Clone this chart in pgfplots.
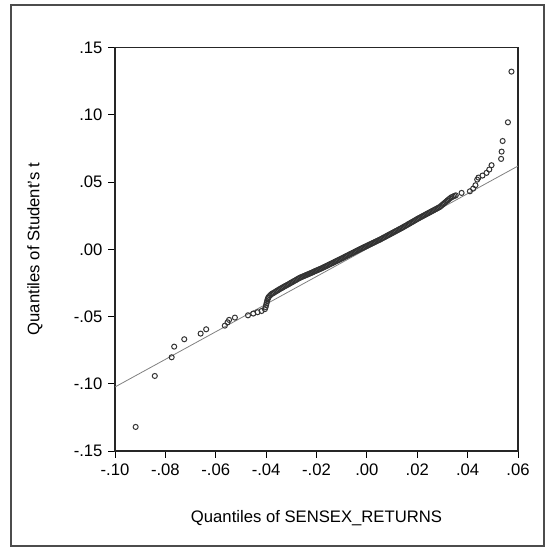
\documentclass[border=0pt]{standalone}
\usepackage{fontspec}
\setmainfont{Liberation Sans}
\usepackage{pgfplots}
\pgfplotsset{compat=1.18}
\usepackage{pgfplotstable}

% outlying quantiles, read one by one
\pgfplotstableread{
x y
-0.0918 -0.1321
-0.0842 -0.0942
-0.0775 -0.0803
-0.0765 -0.0724
-0.0725 -0.0669
-0.0660 -0.0627
-0.0638 -0.0595
-0.0564 -0.0568
-0.0553 -0.0543
-0.0547 -0.0525
-0.0524 -0.0508
-0.0472 -0.0491
-0.0451 -0.0478
-0.0434 -0.0468
-0.0418 -0.0459
0.0353 0.0401
0.0376 0.0419
0.0409 0.0431
0.0422 0.0451
0.0431 0.0476
0.0438 0.0518
0.0443 0.0533
0.0459 0.0548
0.0475 0.0568
0.0486 0.0593
0.0495 0.0625
0.0533 0.0672
0.0535 0.0726
0.0539 0.0805
0.0560 0.0944
0.0574 0.1321
}\tails

% dense central band
\pgfplotstableread{
x y
-0.0405 -0.0445
-0.0402 -0.0430
-0.0400 -0.0415
-0.0398 -0.0400
-0.0396 -0.0385
-0.0394 -0.0372
-0.0392 -0.0362
-0.0390 -0.0355
-0.0385 -0.0345
-0.0380 -0.0335
-0.0375 -0.0329
-0.0370 -0.0324
-0.0365 -0.0318
-0.0360 -0.0312
-0.0355 -0.0307
-0.0350 -0.0301
-0.0345 -0.0295
-0.0340 -0.0290
-0.0335 -0.0285
-0.0330 -0.0279
-0.0325 -0.0274
-0.0320 -0.0269
-0.0315 -0.0264
-0.0310 -0.0259
-0.0305 -0.0253
-0.0300 -0.0248
-0.0295 -0.0243
-0.0290 -0.0237
-0.0285 -0.0232
-0.0280 -0.0227
-0.0275 -0.0221
-0.0270 -0.0216
-0.0265 -0.0211
-0.0260 -0.0207
-0.0255 -0.0203
-0.0250 -0.0199
-0.0245 -0.0195
-0.0240 -0.0191
-0.0235 -0.0187
-0.0230 -0.0183
-0.0225 -0.0179
-0.0220 -0.0175
-0.0215 -0.0171
-0.0210 -0.0166
-0.0205 -0.0162
-0.0200 -0.0158
-0.0195 -0.0154
-0.0190 -0.0150
-0.0185 -0.0146
-0.0180 -0.0142
-0.0175 -0.0137
-0.0170 -0.0133
-0.0165 -0.0128
-0.0160 -0.0124
-0.0155 -0.0119
-0.0150 -0.0114
-0.0145 -0.0110
-0.0140 -0.0105
-0.0135 -0.0101
-0.0130 -0.0096
-0.0125 -0.0091
-0.0120 -0.0087
-0.0115 -0.0082
-0.0110 -0.0078
-0.0105 -0.0073
-0.0100 -0.0068
-0.0095 -0.0064
-0.0090 -0.0059
-0.0085 -0.0054
-0.0080 -0.0049
-0.0075 -0.0045
-0.0070 -0.0040
-0.0065 -0.0035
-0.0060 -0.0030
-0.0055 -0.0026
-0.0050 -0.0021
-0.0045 -0.0016
-0.0040 -0.0011
-0.0035 -0.0007
-0.0030 -0.0002
-0.0025 0.0003
-0.0020 0.0007
-0.0015 0.0012
-0.0010 0.0016
-0.0005 0.0021
0.0000 0.0025
0.0005 0.0030
0.0010 0.0034
0.0015 0.0039
0.0020 0.0043
0.0025 0.0048
0.0030 0.0052
0.0035 0.0057
0.0040 0.0061
0.0045 0.0066
0.0050 0.0070
0.0055 0.0075
0.0060 0.0080
0.0065 0.0085
0.0070 0.0090
0.0075 0.0095
0.0080 0.0100
0.0085 0.0105
0.0090 0.0110
0.0095 0.0115
0.0100 0.0120
0.0105 0.0125
0.0110 0.0130
0.0115 0.0135
0.0120 0.0140
0.0125 0.0145
0.0130 0.0150
0.0135 0.0155
0.0140 0.0160
0.0145 0.0165
0.0150 0.0171
0.0155 0.0176
0.0160 0.0181
0.0165 0.0187
0.0170 0.0192
0.0175 0.0198
0.0180 0.0203
0.0185 0.0208
0.0190 0.0214
0.0195 0.0219
0.0200 0.0225
0.0205 0.0230
0.0210 0.0235
0.0215 0.0240
0.0220 0.0245
0.0225 0.0250
0.0230 0.0255
0.0235 0.0260
0.0240 0.0265
0.0245 0.0270
0.0250 0.0275
0.0255 0.0280
0.0260 0.0285
0.0265 0.0290
0.0270 0.0295
0.0275 0.0300
0.0280 0.0305
0.0285 0.0310
0.0290 0.0315
0.0295 0.0323
0.0300 0.0331
0.0305 0.0339
0.0310 0.0347
0.0315 0.0355
0.0320 0.0363
0.0325 0.0371
0.0330 0.0379
0.0336 0.0387
0.0342 0.0392
0.0348 0.0397
}\band

\begin{document}
\begin{tikzpicture}
\fontsize{12.5}{15}\selectfont
\useasboundingbox (-86.25pt,-72pt) rectangle (322.5pt,338.25pt);
\draw[black!70, line width=0.8pt] (-78pt,-71.25pt) rectangle (321.75pt,334.5pt);
\begin{axis}[
    at={(0,0)}, anchor=south west,
    scale only axis,
    width=302.25pt, height=302.6pt,
    xmin=-0.10, xmax=0.06,
    ymin=-0.15, ymax=0.15,
    xtick={-0.10,-0.08,-0.06,-0.04,-0.02,0,0.02,0.04,0.06},
    xticklabels={-.10,-.08,-.06,-.04,-.02,.00,.02,.04,.06},
    ytick={-0.15,-0.10,-0.05,0,0.05,0.10,0.15},
    yticklabels={-.15,-.10,-.05,.00,.05,.10,.15},
    tick align=outside,
    major tick length=5pt,
    tick style={black, line width=0.6pt},
    axis line style={black!85, line width=0.9pt},
    ticklabel style={font=\fontsize{12.5}{15}\selectfont},
    xtick pos=bottom, ytick pos=left,
    xlabel={Quantiles of SENSEX\_RETURNS},
    ylabel={Quantiles of Student's t},
    label style={font=\fontsize{12.5}{15}\selectfont},
    xlabel style={at={(axis description cs:0.5,-0.166)}, anchor=center},
    ylabel style={at={(axis description cs:-0.199,0.5)}, anchor=center, rotate=0},
    clip=true,
]
\addplot[black!50, line width=0.6pt] coordinates {(-0.10,-0.1024) (0.06,0.0619)};
\addplot[only marks, mark=o, mark size=1.9pt, black!80, mark options={line width=0.75pt}] table[x=x,y=y] {\band};
\addplot[only marks, mark=o, mark size=1.9pt, black!80, mark options={line width=0.75pt}] table[x=x,y=y] {\tails};
\end{axis}
\end{tikzpicture}
\end{document}
